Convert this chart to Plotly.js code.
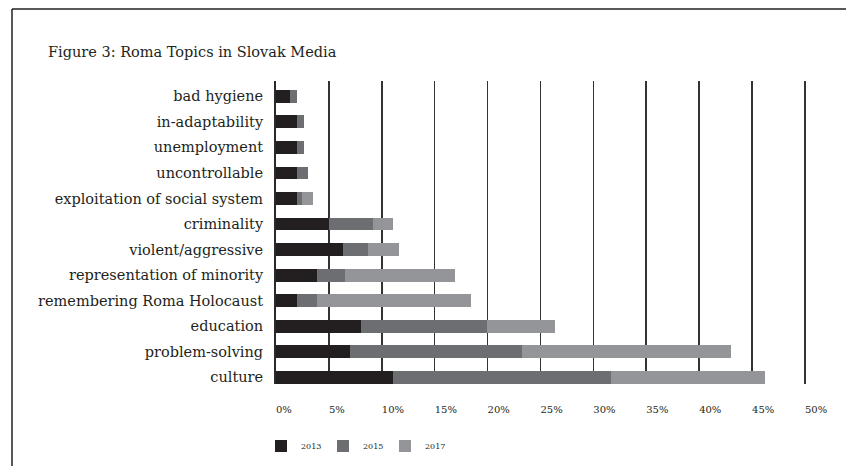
<!DOCTYPE html>
<html>
<head>
<meta charset="utf-8">
<script src="https://cdn.plot.ly/plotly-3.0.1.min.js"></script>
<style>
  html, body { margin: 0; padding: 0; background: #ffffff; }
  #chart { width: 846px; height: 466px; }
</style>
</head>
<body>
<div id="chart"></div>
<script>
// Topic categories, top to bottom as shown
const topics = [
  "bad hygiene",
  "in-adaptability",
  "unemployment",
  "uncontrollable",
  "exploitation of social system",
  "criminality",
  "violent/aggressive",
  "representation of minority",
  "remembering Roma Holocaust",
  "education",
  "problem-solving",
  "culture"
];

// Share of coverage (%) per year
const values2013 = [1.3, 2.0, 2.0, 2.0, 2.0, 5.0, 6.3, 3.9, 2.0, 8.0, 7.0, 11.1];
const values2015 = [0.7, 0.6, 0.6, 1.0, 0.5, 4.2, 2.4, 2.6, 1.9, 11.9, 16.3, 20.6];
const values2017 = [0.0, 0.0, 0.0, 0.0, 1.0, 1.9, 2.9, 10.4, 14.5, 6.5, 19.7, 14.5];

const seriesNames = ["2013", "2015", "2017"];
const xTickValues = [0, 5, 10, 15, 20, 25, 30, 35, 40, 45, 50];
const xTickLabels = ["0%", "5%", "10%", "15%", "20%", "25%", "30%", "35%", "40%", "45%", "50%"];
const titleText = "Figure 3: Roma Topics in Slovak Media";

const colors = ["#231f20", "#6d6e71", "#939598"];
const serif = "DejaVu Serif, Liberation Serif, serif";

const allValues = [values2013, values2015, values2017];
const traces = allValues.map((vals, i) => ({
  type: "bar",
  orientation: "h",
  name: seriesNames[i],
  y: topics,
  x: vals,
  marker: { color: colors[i], line: { width: 0 } },
  hoverinfo: "skip"
}));

const W = 846, H = 466;
const mL = 276, mR = 40, mT = 81, mB = 82;
const pw = W - mL - mR, ph = H - mT - mB;
const px2x = p => (p - mL) / pw;
const py2y = p => (H - mB - p) / ph;

const layout = {
  width: W,
  height: H,
  margin: { l: mL, r: mR, t: mT, b: mB, pad: 0, autoexpand: false },
  paper_bgcolor: "#ffffff",
  plot_bgcolor: "#ffffff",
  barmode: "stack",
  bargap: 0.5,
  showlegend: true,
  title: {
    text: titleText,
    font: { family: serif, size: 14.5, color: "#231f20" },
    xref: "container", yref: "container",
    x: 48 / W, xanchor: "left",
    y: 1 - 52 / H, yanchor: "middle"
  },
  xaxis: {
    range: [0, 50.1],
    tickvals: xTickValues,
    ticktext: xTickLabels,
    showgrid: true,
    gridcolor: "#333333",
    gridwidth: 1.6,
    zeroline: false,
    showline: false,
    ticks: "",
    ticklabelposition: "outside right",
    ticklabelstandoff: 18,
    tickfont: { family: serif, size: 10, color: "#231f20" },
    fixedrange: true
  },
  yaxis: {
    type: "category",
    categoryorder: "array",
    categoryarray: topics,
    range: [11.26, -0.6],
    showgrid: false,
    zeroline: false,
    showline: true,
    linecolor: "#2a2a2a",
    linewidth: 2,
    ticks: "",
    ticklabelstandoff: 8,
    tickfont: { family: serif, size: 14.5, color: "#231f20" },
    fixedrange: true
  },
  legend: {
    orientation: "h",
    x: px2x(261), xanchor: "left",
    y: py2y(446), yanchor: "middle",
    font: { family: serif, size: 8, color: "#231f20" },
    itemwidth: 30,
    entrywidth: 17,
    traceorder: "normal",
    bgcolor: "rgba(0,0,0,0)"
  },
  shapes: [
    { type: "line", xref: "paper", yref: "paper",
      x0: px2x(12), x1: px2x(850), y0: py2y(9), y1: py2y(9),
      line: { color: "#231f20", width: 1.5 } },
    { type: "line", xref: "paper", yref: "paper",
      x0: px2x(12), x1: px2x(12), y0: py2y(9), y1: py2y(470),
      line: { color: "#231f20", width: 1.5 } }
  ]
};

Plotly.newPlot("chart", traces, layout, { displayModeBar: false, staticPlot: true });
</script>
</body>
</html>
